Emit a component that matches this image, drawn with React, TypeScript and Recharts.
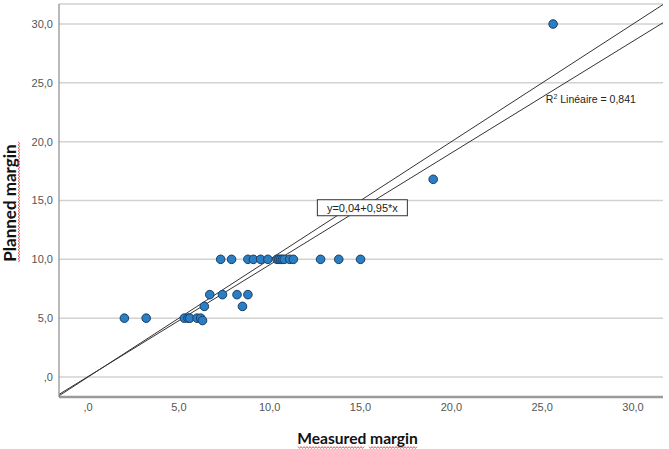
import React from 'react'
import { ScatterChart, Scatter, XAxis, YAxis, CartesianGrid, ReferenceLine, ReferenceDot, Label } from 'recharts'

// measured vs planned margin, one entry per case
const measured = [
  7.3, 7.9, 8.8, 9.1, 9.5, 9.9, 10.4, 10.5, 10.6, 10.7, 10.8, 11.1, 11.3, 12.8, 13.8, 15.0,
  6.7, 7.4, 8.2, 8.8,
  6.4, 8.5,
  2.0, 3.2, 5.3, 5.5, 5.6, 6.0, 6.2,
  6.3, 19.0, 25.6,
]
const planned = [
  10, 10, 10, 10, 10, 10, 10, 10, 10, 10, 10, 10, 10, 10, 10, 10,
  7, 7, 7, 7,
  6, 6,
  5, 5, 5, 5, 5, 5, 5,
  4.8, 16.8, 30,
]

const axisTicks = [0, 5, 10, 15, 20, 25, 30]
const xDomain = [-1.6, 31.65]
const yDomain = [-1.7, 31.7]

const fitIntercept = 0.04
const fitSlope = 0.95
const fitLabel = 'y=0,04+0,95*x'
const fitLabelAt = 15.1
const rSquared = '0,841'
const rSquaredAt = { x: 25.2, y: 23.6 }

const points = measured.map((m, i) => ({ measured: m, planned: planned[i] }))
const fitY = (x: number) => fitIntercept + fitSlope * x

const fmt = (v: number) => (v === 0 ? ',0' : v.toFixed(1).replace('.', ','))

const tickStyle = { fill: '#555', fontSize: 11, fontFamily: 'Liberation Sans' }

// red spell-check squiggle, horizontal or vertical
const zigzag = (from: number, to: number, at: number, vertical = false) => {
  const pts: string[] = []
  let k = 0
  for (let t = from; t <= to; t += 1.5, k++) {
    const off = at + (k % 2 === 0 ? -0.9 : 0.9)
    pts.push(vertical ? `${off},${t}` : `${t},${off}`)
  }
  return <polyline points={pts.join(' ')} fill="none" stroke="#e03030" strokeWidth={0.8} />
}

const Marker = (props: any) => (
  <circle cx={props.cx} cy={props.cy} r={4.3} fill="#2a7fc4" stroke="#1b3d63" strokeWidth={1} />
)

export default function App() {
  return (
    <div style={{ position: 'absolute', left: 0, top: 0, background: '#fff' }}>
      <ScatterChart width={669} height={449} margin={{ top: 4, right: 6, bottom: 0, left: 0 }}>
        <CartesianGrid vertical={false} stroke="#d2d2d2" strokeWidth={1.5} />
        <XAxis
          type="number"
          dataKey="measured"
          domain={xDomain}
          ticks={axisTicks}
          tickFormatter={fmt}
          allowDataOverflow
          height={52}
          tickLine={false}
          tickMargin={0}
          tick={tickStyle}
          axisLine={{ stroke: '#9a9a9a', strokeWidth: 2.5 }}
        >
          <Label
            content={() => (
              <g>
                <text x={357.5} y={444} textAnchor="middle" fontSize={15.6} fontWeight={700} fontFamily="Lato" fill="#111">
                  Measured margin
                </text>
                {zigzag(298, 364, 447.5)}
                {zigzag(369, 417, 447.5)}
              </g>
            )}
          />
        </XAxis>
        <YAxis
          type="number"
          dataKey="planned"
          domain={yDomain}
          ticks={axisTicks}
          tickFormatter={fmt}
          allowDataOverflow
          width={59}
          tickLine={false}
          tickMargin={0}
          tick={tickStyle}
          axisLine={{ stroke: '#8a8a8a', strokeWidth: 1.2 }}
        >
          <Label
            content={() => (
              <g>
                <text
                  x={16}
                  y={203}
                  transform="rotate(-90, 16, 203)"
                  textAnchor="middle"
                  fontSize={17}
                  fontWeight={700}
                  fontFamily="Lato"
                  fill="#111"
                >
                  Planned margin
                </text>
                {zigzag(142, 263, 19, true)}
              </g>
            )}
          />
        </YAxis>
        <ReferenceLine
          segment={[{ x: xDomain[0], y: xDomain[0] }, { x: xDomain[1], y: xDomain[1] }]}
          stroke="#333"
          strokeWidth={1}
        />
        <ReferenceLine
          segment={[{ x: xDomain[0], y: fitY(xDomain[0]) }, { x: xDomain[1], y: fitY(xDomain[1]) }]}
          stroke="#333"
          strokeWidth={1}
        />
        <Scatter data={points} shape={Marker} isAnimationActive={false} />
        <ReferenceDot
          x={fitLabelAt}
          y={fitY(fitLabelAt)}
          shape={(p: any) => (
            <g>
              <rect x={p.cx - 45} y={p.cy - 8} width={90} height={16} fill="#fff" stroke="#333" strokeWidth={1} />
              <text x={p.cx} y={p.cy + 4} textAnchor="middle" fontSize={11} fontFamily="Liberation Sans" fill="#222">
                {fitLabel}
              </text>
            </g>
          )}
        />
        <ReferenceDot
          x={rSquaredAt.x}
          y={rSquaredAt.y}
          shape={(p: any) => (
            <text x={p.cx} y={p.cy + 4} fontSize={10.5} fontFamily="Liberation Sans" fill="#222">
              R<tspan dy={-4} fontSize={7}>2</tspan>
              <tspan dy={4}>{'  Linéaire = ' + rSquared}</tspan>
            </text>
          )}
        />
      </ScatterChart>
    </div>
  )
}
